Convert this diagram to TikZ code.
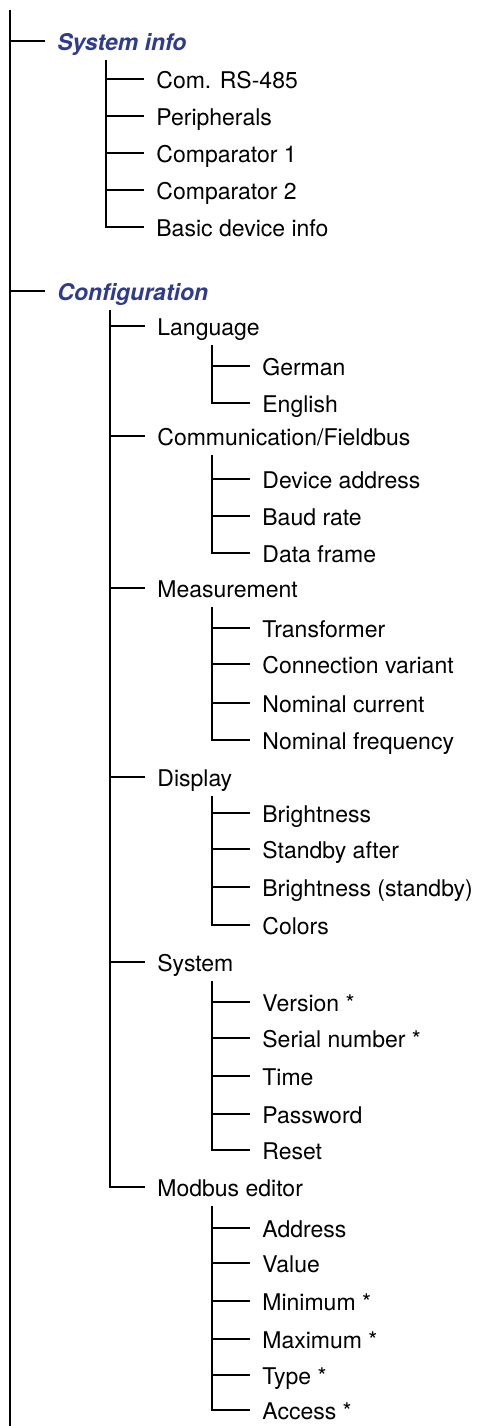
\documentclass[tikz,border=0pt]{standalone}
\usepackage{fontspec}
\setmainfont{TeX Gyre Heros}
\definecolor{menuInk}{HTML}{000000}
\definecolor{menuBlue}{HTML}{2E3B8E}
\tikzset{
  every picture/.style={font=\fontsize{11.5}{13.8}\selectfont, text=menuInk},
  menu item/.style={anchor=west, inner sep=0pt, text height=0.9em, text depth=0pt},
  menu head/.style={menu item, font=\fontsize{11.5}{13.8}\selectfont\bfseries\itshape, text=menuBlue},
  menu line/.style={draw=menuInk, line width=1.15pt, line cap=butt}
}
% parent, trunk offset, children
\newcommand\menuBranch[3]{%
  \foreach \kid in {#3}
    \draw[menu line] ([xshift=#2,yshift=-9.5pt]#1.west) |- ([xshift=-6pt]\kid.west);}

\begin{document}
\begin{tikzpicture}[x=0.5pt,y=-0.5pt]
  \useasboundingbox (0,0) rectangle (479,1426);
  \coordinate (top) at (10,10); \coordinate (bottom) at (10,1426);
  % top level
  \node[menu head] (sysinfo) at (57,41) {System info};
  \node[menu head] (config) at (57,291) {Configuration};
  \draw[menu line] (top) -- (bottom);
  \draw[menu line] (top |- sysinfo.west) -- ([xshift=-6pt]sysinfo.west);
  \draw[menu line] (top |- config.west) -- ([xshift=-6pt]config.west);
  % system info
  \node[menu item] (comRS) at (156,79) {Com. RS-485};
  \node[menu item] (periph) at (156,116) {Peripherals};
  \node[menu item] (compA) at (156,153) {Comparator 1};
  \node[menu item] (compB) at (156,190) {Comparator 2};
  \node[menu item] (basic) at (156,227) {Basic device info};
  \menuBranch{sysinfo}{24.5pt}{comRS,periph,compA,compB,basic}
  % configuration
  \node[menu item] (lang) at (157,326) {Language};
  \node[menu item] (comm) at (157,436) {Communication/Fieldbus};
  \node[menu item] (meas) at (157,588) {Measurement};
  \node[menu item] (disp) at (157,777) {Display};
  \node[menu item] (sys) at (157,962) {System};
  \node[menu item] (modbus) at (157,1187) {Modbus editor};
  \menuBranch{config}{26.5pt}{lang,comm,meas,disp,sys,modbus}
  % language
  \node[menu item] (german) at (262,366) {German};
  \node[menu item] (english) at (262,403) {English};
  \menuBranch{lang}{27.5pt}{german,english}
  % fieldbus
  \node[menu item] (devaddr) at (262,479) {Device address};
  \node[menu item] (baud) at (262,516) {Baud rate};
  \node[menu item] (frame) at (262,553) {Data frame};
  \menuBranch{comm}{27.5pt}{devaddr,baud,frame}
  % measurement
  \node[menu item] (trafo) at (262,628) {Transformer};
  \node[menu item] (connvar) at (262,664) {Connection variant};
  \node[menu item] (nomcur) at (262,703) {Nominal current};
  \node[menu item] (nomfreq) at (262,740) {Nominal frequency};
  \menuBranch{meas}{27.5pt}{trafo,connvar,nomcur,nomfreq}
  % display
  \node[menu item] (bright) at (262,813) {Brightness};
  \node[menu item] (standby) at (262,849) {Standby after};
  \node[menu item] (brightsb) at (262,887) {Brightness (standby)};
  \node[menu item] (colors) at (262,925) {Colors};
  \menuBranch{disp}{27.5pt}{bright,standby,brightsb,colors}
  % system
  \node[menu item] (version) at (262,1002) {Version *};
  \node[menu item] (serial) at (262,1038) {Serial number *};
  \node[menu item] (time) at (262,1076) {Time};
  \node[menu item] (passwd) at (262,1114) {Password};
  \node[menu item] (reset) at (262,1150) {Reset};
  \menuBranch{sys}{27.5pt}{version,serial,time,passwd,reset}
  % modbus editor
  \node[menu item] (address) at (262,1228) {Address};
  \node[menu item] (value) at (262,1263) {Value};
  \node[menu item] (minimum) at (262,1301) {Minimum *};
  \node[menu item] (maximum) at (262,1339) {Maximum *};
  \node[menu item] (type) at (262,1375) {Type *};
  \node[menu item] (access) at (262,1410) {Access *};
  \menuBranch{modbus}{27.5pt}{address,value,minimum,maximum,type,access}
\end{tikzpicture}
\end{document}
